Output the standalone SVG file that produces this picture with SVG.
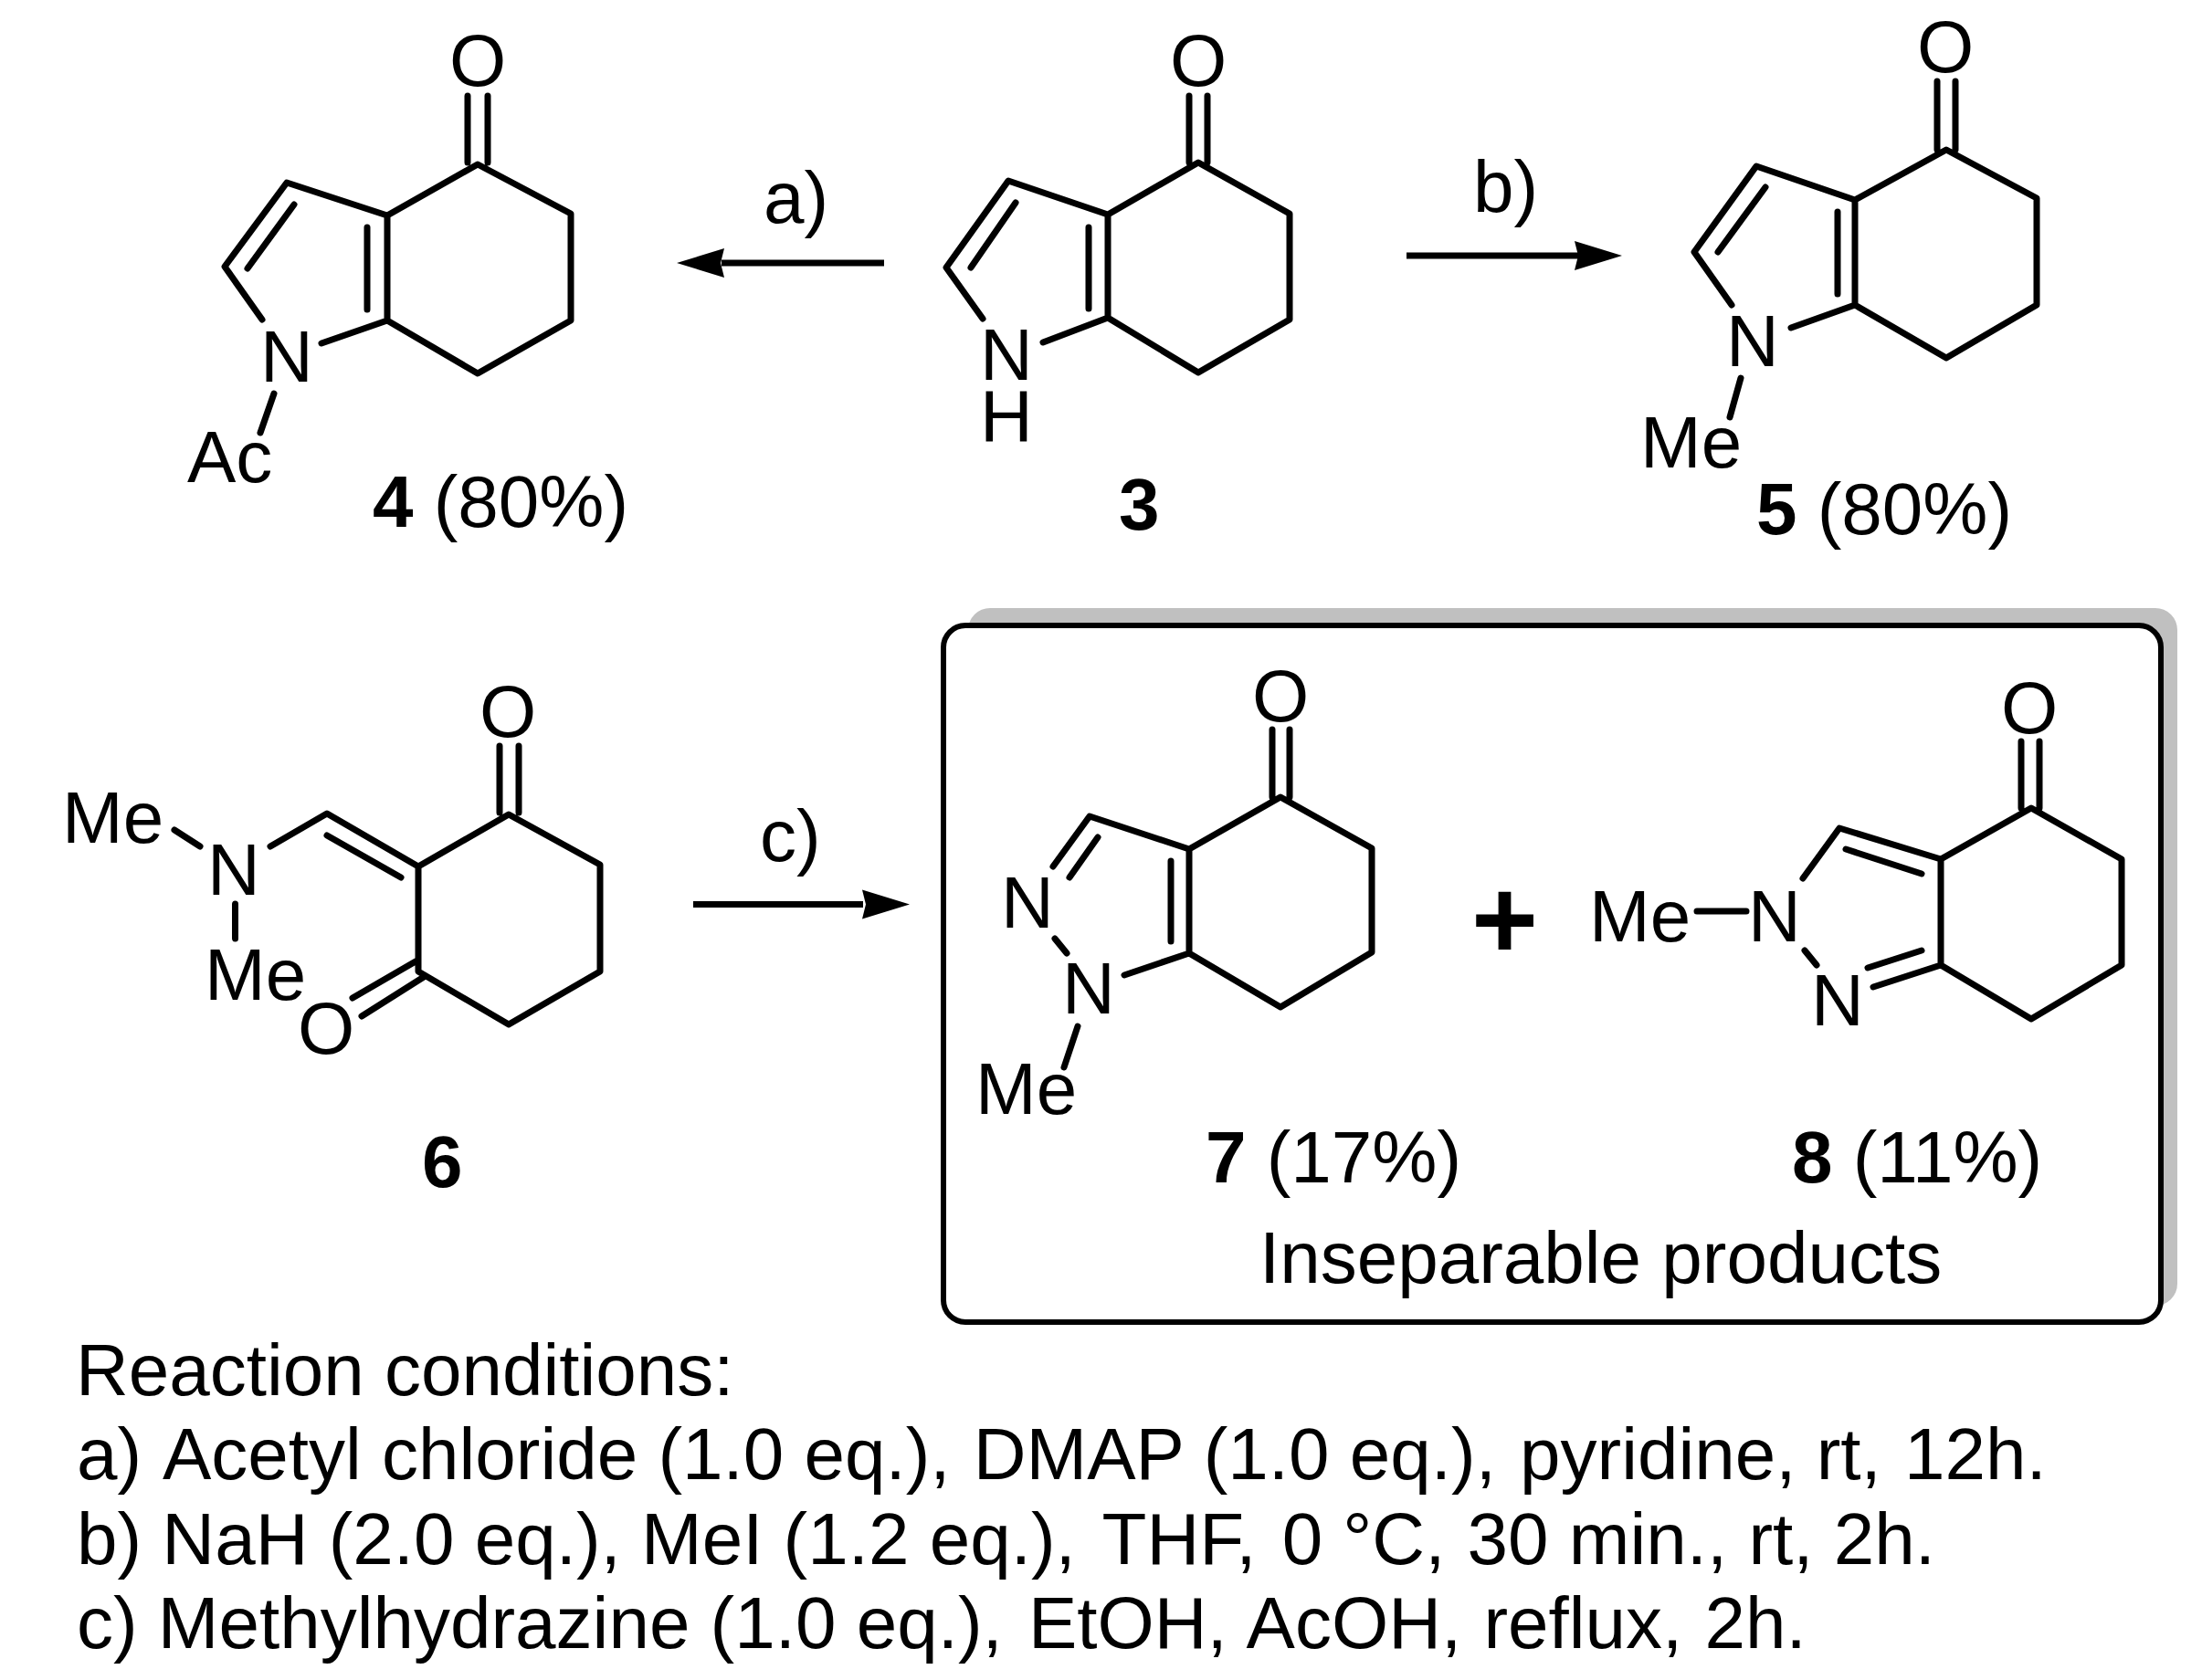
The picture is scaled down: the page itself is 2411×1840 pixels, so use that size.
<svg xmlns="http://www.w3.org/2000/svg" width="2411" height="1840" viewBox="0 0 2411 1840">
<style>
text{font-family:"Liberation Sans",Arial,sans-serif;font-size:80px;fill:#000}
.b{font-weight:bold}
.bond{fill:none;stroke:#000;stroke-width:7;stroke-linejoin:round;stroke-linecap:round}
.arr{fill:none;stroke:#000;stroke-width:7}
</style>
<defs>
<path id="ah" d="M0,0 L-52,-16 L-48,0 L-52,16 Z" fill="#000"/>
</defs>
<rect width="2411" height="1840" fill="#fff"/>
<g id="connectors">
<g class="arr"><path d="M968,288H790"/><path d="M1540,280H1730"/><path d="M759,990.5H945"/></g>
<use href="#ah" transform="translate(741,288) rotate(180)"/>
<use href="#ah" transform="translate(1776,280)"/>
<use href="#ah" transform="translate(996,990.5)"/>
<text x="836" y="244">a)</text>
<text x="1613" y="232">b)</text>
<text x="832" y="943">c)</text>
</g>
<g id="compound-4">
<path class="bond" d="M287,350L246,292L314,200L424,236L523,180L625,234V351L523,409L424,351L352,376M424,236V351M402,249V339M322,224L271,294M512,105V178M534,105V178M300,431L285,474"/>
<text x="523" y="94" text-anchor="middle">O</text>
<text x="285" y="418">N</text>
<text x="205" y="528">Ac</text>
<text x="408" y="577"><tspan class="b">4</tspan> (80%)</text>
</g>
<g id="compound-3">
<path class="bond" d="M1076,349L1036,293L1104,198L1213,235L1312,178L1412,234V350L1312,408L1213,348L1142,375M1213,235V348M1192,249V338M1112,222L1063,293M1302,105V178M1322,105V178"/>
<text x="1312" y="94" text-anchor="middle">O</text>
<text x="1073" y="416">N</text>
<text x="1073" y="483">H</text>
<text class="b" x="1225" y="580">3</text>
</g>
<g id="compound-5">
<path class="bond" d="M1896,334L1855,276L1923,182L2031,219L2131,164L2230,217V334L2131,392L2031,334L1961,359M2031,219V334M2012,232V322M1933,205L1881,276M2121,89V164M2141,89V164M1906,414L1894,457"/>
<text x="2130" y="79" text-anchor="middle">O</text>
<text x="1890" y="401">N</text>
<text x="1796" y="512">Me</text>
<text x="1923" y="585"><tspan class="b">5</tspan> (80%)</text>
</g>
<g id="compound-6">
<path class="bond" d="M296,927L358,891L458,949L557,892L657,947V1064L557,1122L458,1064V949M358,915L439,961M547,817V890M568,817V890M455,1053L386,1093M464,1070L396,1113M191,909L219,927M257.500,990V1028"/>
<text x="556" y="807" text-anchor="middle">O</text>
<text x="227" y="980">N</text>
<text x="68" y="923">Me</text>
<text x="224" y="1095">Me</text>
<text x="357" y="1154" text-anchor="middle">O</text>
<text class="b" x="462" y="1300">6</text>
</g>
<g id="products-box">
<rect x="1060" y="666" width="1324" height="764" rx="24" fill="#c0c0c0"/>
<rect x="1033" y="685" width="1333" height="763" rx="24" fill="#fff" stroke="#000" stroke-width="6"/>
<text x="1379" y="1405">Inseparable products</text>
<text class="b" x="1611" y="1050" style="font-size:125px">+</text>
</g>
<g id="compound-7">
<path class="bond" d="M1153,949L1193,894L1302,930L1402,873L1502,929V1043L1402,1103L1302,1044L1231,1068M1302,930V1044M1282,943V1031M1202,917L1171,961M1393,799V873M1412,799V873M1155,1028L1168,1044M1180,1124L1165,1169"/>
<text x="1402" y="790" text-anchor="middle">O</text>
<text x="1096" y="1016">N</text>
<text x="1163" y="1110">N</text>
<text x="1068" y="1220">Me</text>
<text x="1320" y="1295"><tspan class="b">7</tspan> (17%)</text>
</g>
<g id="compound-8">
<path class="bond" d="M1974,962L2014,907L2125,941L2224,885L2323,941V1057L2224,1116L2125,1057L2051,1081M2125,941V1057M2021,930L2104,957M2104,1041L2045,1060M2213,812V885M2233,812V885M1858,998H1912M1976,1041L1989,1057"/>
<text x="2222" y="803" text-anchor="middle">O</text>
<text x="1914" y="1031">N</text>
<text x="1740" y="1031">Me</text>
<text x="1983" y="1123">N</text>
<text x="1962" y="1295"><tspan class="b">8</tspan> (11%)</text>
</g>
<g id="conditions">
<text x="83" y="1528">Reaction conditions:</text>
<text x="84" y="1620">a) <tspan dx="5">Acetyl</tspan> chloride (1.0 eq.), <tspan dx="3">DMAP</tspan> (1.0 eq.), <tspan dx="4">pyridine,</tspan> rt, <tspan dx="3">12h.</tspan></text>
<text x="84" y="1713">b) NaH (2.0 eq.), MeI (1.2 eq.), <tspan dx="8">THF,</tspan> <tspan dx="6">0</tspan> °C, <tspan dx="2">30</tspan> min., <tspan dx="1">rt,</tspan> 2h.</text>
<text x="84" y="1805">c) Methylhydrazine (1.0 eq.), <tspan dx="6">EtOH,</tspan> <tspan dx="3">AcOH,</tspan> <tspan dx="2">reflux,</tspan> <tspan dx="2">2h.</tspan></text>
</g>
</svg>
